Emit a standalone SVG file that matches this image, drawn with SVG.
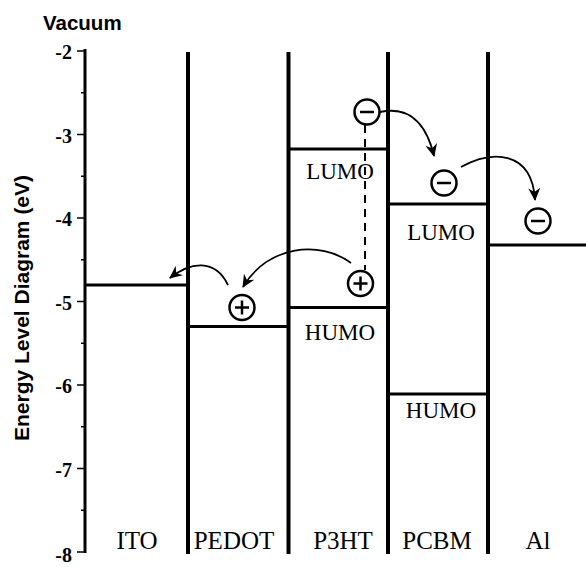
<svg xmlns="http://www.w3.org/2000/svg" width="586" height="567" viewBox="0 0 586 567">
<style>
.ax{stroke:#000;stroke-width:3;fill:none}
.tk{stroke:#000;stroke-width:1.5}
.vl{stroke:#000;stroke-width:4}
.lv{stroke:#000;stroke-width:3}
.tl{font-family:"Liberation Serif",serif;font-weight:bold;font-size:20px;text-anchor:end}
.lb{font-family:"Liberation Serif",serif;font-size:23px;text-anchor:middle}
.bl{font-family:"Liberation Serif",serif;font-size:25px;text-anchor:middle}
.ti{font-family:"Liberation Sans",Arial,sans-serif;font-weight:bold}
.ch{fill:#fff;stroke:#000;stroke-width:2.5}
.sg{stroke:#000;stroke-width:2.5}
.cn{fill:none;stroke:#000;stroke-width:1.8}
.ds{stroke:#000;stroke-width:2;stroke-dasharray:8,6}
</style>
<defs>
<marker id="ah" markerWidth="14" markerHeight="12" refX="12" refY="6" orient="auto" markerUnits="userSpaceOnUse">
<path d="M0,0 L13,6 L0,12 L4,6 Z" fill="#000"/>
</marker>
<g id="minus"><circle r="12.5" class="ch"/><line x1="-7" y1="0" x2="7" y2="0" class="sg"/></g>
<g id="plus"><circle r="12.5" class="ch"/><line x1="-7" y1="0" x2="7" y2="0" class="sg"/><line x1="0" y1="-7" x2="0" y2="7" class="sg"/></g>
</defs>
<rect width="586" height="567" fill="#fff"/>

<g id="axis">
<line x1="85" y1="49" x2="85" y2="553" class="ax"/>
<line x1="77" y1="51" x2="85" y2="51" class="tk"/>
<line x1="81" y1="92.75" x2="85" y2="92.75" class="tk"/>
<line x1="77" y1="134.5" x2="85" y2="134.5" class="tk"/>
<line x1="81" y1="176.25" x2="85" y2="176.25" class="tk"/>
<line x1="77" y1="218" x2="85" y2="218" class="tk"/>
<line x1="81" y1="259.75" x2="85" y2="259.75" class="tk"/>
<line x1="77" y1="301.5" x2="85" y2="301.5" class="tk"/>
<line x1="81" y1="343.25" x2="85" y2="343.25" class="tk"/>
<line x1="77" y1="385" x2="85" y2="385" class="tk"/>
<line x1="81" y1="426.75" x2="85" y2="426.75" class="tk"/>
<line x1="77" y1="468.5" x2="85" y2="468.5" class="tk"/>
<line x1="81" y1="510.25" x2="85" y2="510.25" class="tk"/>
<line x1="77" y1="552" x2="85" y2="552" class="tk"/>
<text x="72" y="59" class="tl">-2</text>
<text x="72" y="143" class="tl">-3</text>
<text x="72" y="226" class="tl">-4</text>
<text x="72" y="310" class="tl">-5</text>
<text x="72" y="393" class="tl">-6</text>
<text x="72" y="477" class="tl">-7</text>
<text x="72" y="562" class="tl">-8</text>
<text x="43" y="30" class="ti" font-size="20.5">Vacuum</text>
<text transform="translate(29,308) rotate(-90)" class="ti" font-size="21" text-anchor="middle">Energy Level Diagram (eV)</text>
</g>

<g id="ITO">
<line x1="86" y1="285" x2="188" y2="285" class="lv"/>
<text x="137" y="549" class="bl">ITO</text>
</g>
<g id="PEDOT">
<line x1="188" y1="52" x2="188" y2="554" class="vl"/>
<line x1="188" y1="326.5" x2="288" y2="326.5" class="lv"/>
<text x="234" y="549" class="bl" font-size="24">PEDOT</text>
</g>
<g id="P3HT">
<line x1="288.5" y1="52" x2="288.5" y2="554" class="vl"/>
<line x1="288" y1="149" x2="388" y2="149" class="lv"/>
<line x1="288" y1="307.5" x2="388" y2="307.5" class="lv"/>
<text x="340" y="179" class="lb">LUMO</text>
<text x="340" y="340" class="lb">HUMO</text>
<text x="343" y="549" class="bl">P3HT</text>
</g>
<g id="PCBM">
<line x1="388" y1="52" x2="388" y2="554" class="vl"/>
<line x1="388" y1="204" x2="488" y2="204" class="lv"/>
<line x1="388" y1="394" x2="488" y2="394" class="lv"/>
<text x="441" y="240" class="lb">LUMO</text>
<text x="441" y="418" class="lb">HUMO</text>
<text x="437" y="549" class="bl">PCBM</text>
</g>
<g id="Al">
<line x1="488" y1="52" x2="488" y2="554" class="vl"/>
<line x1="488" y1="245" x2="586" y2="245" class="lv"/>
<text x="538" y="549" class="bl">Al</text>
</g>

<g id="connectors">
<line x1="365" y1="125" x2="365" y2="270" class="ds"/>
<path d="M380,112 C408,106 426,122 434,156" class="cn" marker-end="url(#ah)"/>
<path d="M461,167 C492,150 532,150 535,200" class="cn" marker-end="url(#ah)"/>
<path d="M351,263 C320,240 268,245 243,287" class="cn" marker-end="url(#ah)"/>
<path d="M228,285 C215,258 190,262 170,278" class="cn" marker-end="url(#ah)"/>
</g>

<g id="charge-e1"><use href="#minus" x="367" y="112"/></g>
<g id="charge-e2"><use href="#minus" x="444" y="183"/></g>
<g id="charge-e3"><use href="#minus" x="538" y="221"/></g>
<g id="charge-h1"><use href="#plus" x="360.5" y="283.5"/></g>
<g id="charge-h2"><use href="#plus" x="242" y="307.5"/></g>
</svg>
